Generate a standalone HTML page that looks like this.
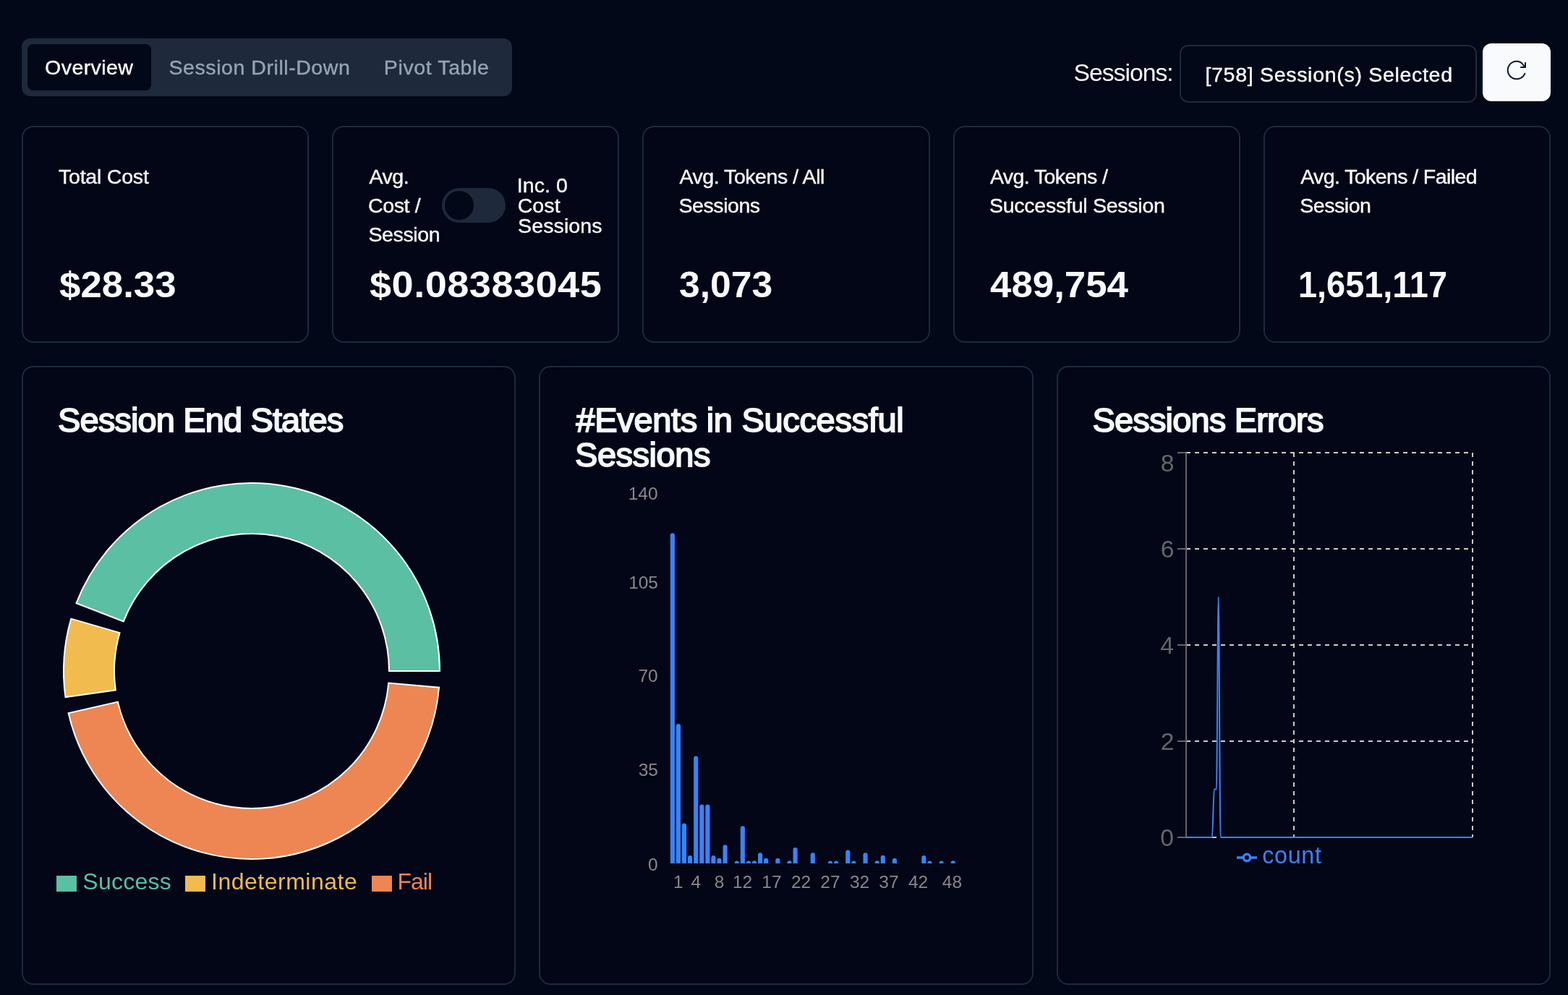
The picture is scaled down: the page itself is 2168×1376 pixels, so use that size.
<!DOCTYPE html>
<html lang="en">
<head>
<meta charset="utf-8">
<title>Overview</title>
<style>
/* canvas is 2168 x 1376; every length is in rem with 1rem = 100px at that width */
html{font-size:calc(100vw / 21.68)}
html,body{margin:0;padding:0}
body{width:21.68rem;height:13.76rem;overflow:hidden;background:#020817;position:relative;font-family:"Liberation Sans",sans-serif;color:#f8fafc;font-size:0.28rem}
body *{position:absolute;box-sizing:border-box;margin:0;padding:0}
.card{border:0.0201rem solid #1e293b;border-radius:0.16rem;background:#020617}
.tabs{background:#1e293b;border-radius:0.12rem}
.tab-on{background:#020817;border-radius:0.08rem}
.select{border:0.0201rem solid #1e293b;border-radius:0.12rem;background:#020817}
.btn{background:#f8fafc;border-radius:0.12rem}
.switch{background:#1e293b;border-radius:0.24rem}
.thumb{background:#020817;border-radius:50%}
.t{white-space:nowrap}
.sx{transform-origin:0 0}
</style>
</head>
<body>
<nav class="tabs" style="left:0.3rem;top:0.53rem;width:6.78rem;height:0.8rem">
<div class="tab-on" style="left:0.08rem;top:0.08rem;width:1.71rem;height:0.64rem"></div>
<span class="t" style="left:0.3211rem;top:0.2301rem;font-size:0.2856rem;line-height:0.34rem;-webkit-text-stroke:0.004rem #f8fafc;letter-spacing:0.00402rem">Overview</span>
<span class="t" style="left:2.0356rem;top:0.2301rem;font-size:0.2856rem;line-height:0.34rem;-webkit-text-stroke:0.004rem #94a3b8;letter-spacing:0.00536rem;color:#94a3b8">Session Drill-Down</span>
<span class="t" style="left:5.0087rem;top:0.2301rem;font-size:0.2856rem;line-height:0.34rem;-webkit-text-stroke:0.004rem #94a3b8;letter-spacing:0.00588rem;color:#94a3b8">Pivot Table</span>
</nav>
<span class="t" style="left:14.8445rem;top:0.8rem;font-size:0.3373rem;line-height:0.4rem;letter-spacing:-0.00992rem">Sessions:</span>
<div class="select" style="left:16.31rem;top:0.62rem;width:4.11rem;height:0.8rem">
<span class="t" style="left:0.3341rem;top:0.22rem;font-size:0.2856rem;line-height:0.34rem;-webkit-text-stroke:0.004rem #f8fafc;letter-spacing:0.00681rem">[758] Session(s) Selected</span>
</div>
<div class="btn" style="left:20.5rem;top:0.6rem;width:0.94rem;height:0.8rem">
<svg style="left:0.32rem;top:0.22rem;width:0.3rem;height:0.3rem" viewBox="0 0 15 15"><path d="M1.84998 7.49998C1.84998 4.66458 4.05979 1.84998 7.49998 1.84998C10.2783 1.84998 11.6515 3.9064 12.2367 5H10.5C10.2239 5 10 5.22386 10 5.5C10 5.77614 10.2239 6 10.5 6H13.5C13.7761 6 14 5.77614 14 5.5V2.5C14 2.22386 13.7761 2 13.5 2C13.2239 2 13 2.22386 13 2.5V4.31318C12.2955 3.07126 10.6659 0.849976 7.49998 0.849976C3.43716 0.849976 0.849976 4.18537 0.849976 7.49998C0.849976 10.8146 3.43716 14.15 7.49998 14.15C9.44382 14.15 11.0622 13.3808 12.2145 12.2084C12.8315 11.5806 13.3133 10.839 13.6418 10.0407C13.7469 9.78536 13.6251 9.49315 13.3698 9.38806C13.1144 9.28296 12.8222 9.40478 12.7171 9.66014C12.4363 10.3425 12.0251 10.9745 11.5013 11.5074C10.5295 12.4963 9.16504 13.15 7.49998 13.15C4.05979 13.15 1.84998 10.3354 1.84998 7.49998Z" fill="#0f172a" fill-rule="evenodd" clip-rule="evenodd"/></svg>
</div>
<section class="card stat" style="left:0.3rem;top:1.74rem;width:3.972rem;height:3rem">
<span class="t" style="left:0.4895rem;top:0.51rem;font-size:0.2856rem;line-height:0.34rem;-webkit-text-stroke:0.004rem #f8fafc;letter-spacing:-0.00226rem">Total Cost</span>
<span class="t sx" style="left:0.503rem;top:1.8801rem;font-size:0.492rem;line-height:0.59rem;font-weight:700;transform:scaleX(1.0740)">$28.33</span>
</section>
<section class="card stat" style="left:4.592rem;top:1.74rem;width:3.972rem;height:3rem">
<div class="switch" style="left:1.498rem;top:0.84rem;width:0.88rem;height:0.48rem"><div class="thumb" style="left:0.04rem;top:0.04rem;width:0.4rem;height:0.4rem"></div></div>
<span class="t" style="left:0.492rem;top:0.51rem;font-size:0.2856rem;line-height:0.34rem;-webkit-text-stroke:0.004rem #f8fafc;letter-spacing:-0.00402rem">Avg.</span>
<span class="t" style="left:0.4786rem;top:0.91rem;font-size:0.2856rem;line-height:0.34rem;-webkit-text-stroke:0.004rem #f8fafc;letter-spacing:-0.00402rem">Cost /</span>
<span class="t" style="left:0.4831rem;top:1.31rem;font-size:0.2856rem;line-height:0.34rem;-webkit-text-stroke:0.004rem #f8fafc;letter-spacing:-0.00402rem">Session</span>
<span class="t" style="left:2.5357rem;top:0.6301rem;font-size:0.2856rem;line-height:0.34rem;-webkit-text-stroke:0.004rem #f8fafc;letter-spacing:0.00086rem">Inc. 0</span>
<span class="t" style="left:2.5446rem;top:0.9101rem;font-size:0.2856rem;line-height:0.34rem;-webkit-text-stroke:0.004rem #f8fafc;letter-spacing:0.00086rem">Cost</span>
<span class="t" style="left:2.5491rem;top:1.1901rem;font-size:0.2856rem;line-height:0.34rem;-webkit-text-stroke:0.004rem #f8fafc;letter-spacing:0.00086rem">Sessions</span>
<span class="t sx" style="left:0.501rem;top:1.8801rem;font-size:0.492rem;line-height:0.59rem;font-weight:700;letter-spacing:0.00438rem;transform:scaleX(1.1000)">$0.08383045</span>
</section>
<section class="card stat" style="left:8.884rem;top:1.74rem;width:3.972rem;height:3rem">
<span class="t" style="left:0.49rem;top:0.51rem;font-size:0.2856rem;line-height:0.34rem;-webkit-text-stroke:0.004rem #f8fafc;letter-spacing:-0.00464rem">Avg. Tokens / All</span>
<span class="t" style="left:0.4811rem;top:0.91rem;font-size:0.2856rem;line-height:0.34rem;-webkit-text-stroke:0.004rem #f8fafc;letter-spacing:-0.00457rem">Sessions</span>
<span class="t sx" style="left:0.4849rem;top:1.8801rem;font-size:0.492rem;line-height:0.59rem;font-weight:700;transform:scaleX(1.0493)">3,073</span>
</section>
<section class="card stat" style="left:13.176rem;top:1.74rem;width:3.972rem;height:3rem">
<span class="t" style="left:0.493rem;top:0.51rem;font-size:0.2856rem;line-height:0.34rem;-webkit-text-stroke:0.004rem #f8fafc;letter-spacing:-0.00602rem">Avg. Tokens /</span>
<span class="t" style="left:0.4841rem;top:0.91rem;font-size:0.2856rem;line-height:0.34rem;-webkit-text-stroke:0.004rem #f8fafc;letter-spacing:-0.00273rem">Successful Session</span>
<span class="t sx" style="left:0.491rem;top:1.8801rem;font-size:0.492rem;line-height:0.59rem;font-weight:700;transform:scaleX(1.0743)">489,754</span>
</section>
<section class="card stat" style="left:17.468rem;top:1.74rem;width:3.972rem;height:3rem">
<span class="t" style="left:0.494rem;top:0.51rem;font-size:0.2856rem;line-height:0.34rem;-webkit-text-stroke:0.004rem #f8fafc;letter-spacing:-0.00613rem">Avg. Tokens / Failed</span>
<span class="t" style="left:0.4851rem;top:0.91rem;font-size:0.2856rem;line-height:0.34rem;-webkit-text-stroke:0.004rem #f8fafc;letter-spacing:-0.00485rem">Session</span>
<span class="t sx" style="left:0.4627rem;top:1.8801rem;font-size:0.492rem;line-height:0.59rem;font-weight:700;transform:scaleX(0.9531)">1,651,117</span>
</section>
<section class="card chart" style="left:0.3rem;top:5.06rem;width:6.8333rem;height:8.56rem">
<svg style="left:0rem;top:0rem;width:6.79rem;height:8.52rem" viewBox="32 508 679 852">
<path d="M608.00,928.00A260.0,260.0,0,0,0,105.52,834.17L170.80,859.43A190.0,190.0,0,0,1,538.00,928.00Z" fill="#5bbfa3" stroke="#fff" stroke-width="2"/>
<path d="M98.27,855.66A260.0,260.0,0,0,0,90.51,964.04L159.83,954.34A190.0,190.0,0,0,1,165.50,875.14Z" fill="#f2bb4d" stroke="#fff" stroke-width="2"/>
<path d="M94.63,986.35A260.0,260.0,0,0,0,607.01,950.66L537.28,944.56A190.0,190.0,0,0,1,162.85,970.64Z" fill="#ed8652" stroke="#fff" stroke-width="2"/>
<rect x="78" y="1211" width="28" height="22" fill="#5bbfa3"/>
<rect x="256" y="1211" width="28" height="22" fill="#f2bb4d"/>
<rect x="514" y="1211" width="28" height="22" fill="#ed8652"/>
</svg>
<span class="t" style="left:0.4803rem;top:0.4501rem;font-size:0.4699rem;line-height:0.56rem;-webkit-text-stroke:0.018rem #f8fafc;letter-spacing:-0.00869rem">Session End States</span>
<span class="t" style="left:0.823rem;top:6.9201rem;font-size:0.32rem;line-height:0.38rem;letter-spacing:0.00244rem;color:#5bbfa3">Success</span>
<span class="t" style="left:2.601rem;top:6.9201rem;font-size:0.32rem;line-height:0.38rem;letter-spacing:0.00494rem;color:#f2bb4d">Indeterminate</span>
<span class="t" style="left:5.175rem;top:6.9201rem;font-size:0.32rem;line-height:0.38rem;letter-spacing:-0.01018rem;color:#ed8652">Fail</span>
</section>
<section class="card chart" style="left:7.4533rem;top:5.06rem;width:6.8333rem;height:8.56rem">
<svg style="left:0.0067rem;top:0rem;width:6.78rem;height:8.52rem" viewBox="748 508 678 852">
<path d="M926.82,1194.0V740.22A3.08,3.08,0,0,1,932.97,740.22V1194.0Z" fill="#3b82f6"/>
<path d="M934.90,1194.0V1003.93A3.08,3.08,0,0,1,941.05,1003.93V1194.0Z" fill="#3b82f6"/>
<path d="M942.98,1194.0V1141.36A3.08,3.08,0,0,1,949.13,1141.36V1194.0Z" fill="#3b82f6"/>
<path d="M951.06,1194.0V1185.93A3.08,3.08,0,0,1,957.21,1185.93V1194.0Z" fill="#3b82f6"/>
<path d="M959.14,1194.0V1048.50A3.08,3.08,0,0,1,965.29,1048.50V1194.0Z" fill="#3b82f6"/>
<path d="M967.22,1194.0V1115.36A3.08,3.08,0,0,1,973.37,1115.36V1194.0Z" fill="#3b82f6"/>
<path d="M975.30,1194.0V1115.36A3.08,3.08,0,0,1,981.45,1115.36V1194.0Z" fill="#3b82f6"/>
<path d="M983.38,1194.0V1185.93A3.08,3.08,0,0,1,989.53,1185.93V1194.0Z" fill="#3b82f6"/>
<path d="M991.46,1194.0V1189.65A3.08,3.08,0,0,1,997.61,1189.65V1194.0Z" fill="#3b82f6"/>
<path d="M999.54,1194.0V1171.08A3.08,3.08,0,0,1,1005.69,1171.08V1194.0Z" fill="#3b82f6"/>
<path d="M1015.70,1194.0V1193.36A3.08,3.08,0,0,1,1021.85,1193.36V1194.0Z" fill="#3b82f6"/>
<path d="M1023.78,1194.0V1145.08A3.08,3.08,0,0,1,1029.93,1145.08V1194.0Z" fill="#3b82f6"/>
<path d="M1031.87,1194.0V1193.36A3.08,3.08,0,0,1,1038.02,1193.36V1194.0Z" fill="#3b82f6"/>
<path d="M1039.94,1194.0V1193.36A3.08,3.08,0,0,1,1046.10,1193.36V1194.0Z" fill="#3b82f6"/>
<path d="M1048.02,1194.0V1182.22A3.08,3.08,0,0,1,1054.17,1182.22V1194.0Z" fill="#3b82f6"/>
<path d="M1056.11,1194.0V1189.65A3.08,3.08,0,0,1,1062.26,1189.65V1194.0Z" fill="#3b82f6"/>
<path d="M1072.26,1194.0V1189.65A3.08,3.08,0,0,1,1078.41,1189.65V1194.0Z" fill="#3b82f6"/>
<path d="M1088.42,1194.0V1193.36A3.08,3.08,0,0,1,1094.58,1193.36V1194.0Z" fill="#3b82f6"/>
<path d="M1096.50,1194.0V1174.79A3.08,3.08,0,0,1,1102.65,1174.79V1194.0Z" fill="#3b82f6"/>
<path d="M1120.74,1194.0V1182.22A3.08,3.08,0,0,1,1126.89,1182.22V1194.0Z" fill="#3b82f6"/>
<path d="M1144.98,1194.0V1193.36A3.08,3.08,0,0,1,1151.13,1193.36V1194.0Z" fill="#3b82f6"/>
<path d="M1153.06,1194.0V1193.36A3.08,3.08,0,0,1,1159.21,1193.36V1194.0Z" fill="#3b82f6"/>
<path d="M1169.22,1194.0V1178.50A3.08,3.08,0,0,1,1175.38,1178.50V1194.0Z" fill="#3b82f6"/>
<path d="M1177.30,1194.0V1193.36A3.08,3.08,0,0,1,1183.45,1193.36V1194.0Z" fill="#3b82f6"/>
<path d="M1193.46,1194.0V1182.22A3.08,3.08,0,0,1,1199.62,1182.22V1194.0Z" fill="#3b82f6"/>
<path d="M1209.62,1194.0V1193.36A3.08,3.08,0,0,1,1215.78,1193.36V1194.0Z" fill="#3b82f6"/>
<path d="M1217.70,1194.0V1185.93A3.08,3.08,0,0,1,1223.86,1185.93V1194.0Z" fill="#3b82f6"/>
<path d="M1233.87,1194.0V1189.65A3.08,3.08,0,0,1,1240.02,1189.65V1194.0Z" fill="#3b82f6"/>
<path d="M1274.26,1194.0V1185.93A3.08,3.08,0,0,1,1280.41,1185.93V1194.0Z" fill="#3b82f6"/>
<path d="M1282.35,1194.0V1193.36A3.08,3.08,0,0,1,1288.50,1193.36V1194.0Z" fill="#3b82f6"/>
<path d="M1298.50,1194.0V1193.36A3.08,3.08,0,0,1,1304.65,1193.36V1194.0Z" fill="#3b82f6"/>
<path d="M1314.66,1194.0V1193.36A3.08,3.08,0,0,1,1320.82,1193.36V1194.0Z" fill="#3b82f6"/>
</svg>
<span class="t" style="left:0.4917rem;top:0.4501rem;font-size:0.4699rem;line-height:0.56rem;-webkit-text-stroke:0.018rem #f8fafc;letter-spacing:-0.0032rem">#Events in Successful</span>
<span class="t" style="left:0.477rem;top:0.9301rem;font-size:0.4699rem;line-height:0.56rem;-webkit-text-stroke:0.018rem #f8fafc;letter-spacing:-0.00462rem">Sessions</span>
<span class="t" style="left:1.2143rem;top:1.6rem;font-size:0.2448rem;line-height:0.29rem;color:#888888">140</span>
<span class="t" style="left:1.2181rem;top:2.83rem;font-size:0.2448rem;line-height:0.29rem;color:#888888">105</span>
<span class="t" style="left:1.3505rem;top:4.12rem;font-size:0.2448rem;line-height:0.29rem;color:#888888">70</span>
<span class="t" style="left:1.3543rem;top:5.42rem;font-size:0.2448rem;line-height:0.29rem;color:#888888">35</span>
<span class="t" style="left:1.4866rem;top:6.7301rem;font-size:0.2448rem;line-height:0.29rem;color:#888888">0</span>
<span class="t" style="left:1.8357rem;top:6.97rem;font-size:0.2448rem;line-height:0.29rem;color:#888888">1</span>
<span class="t" style="left:2.0819rem;top:6.97rem;font-size:0.2448rem;line-height:0.29rem;color:#888888">4</span>
<span class="t" style="left:2.4051rem;top:6.97rem;font-size:0.2448rem;line-height:0.29rem;color:#888888">8</span>
<span class="t" style="left:2.6564rem;top:6.97rem;font-size:0.2448rem;line-height:0.29rem;color:#888888">12</span>
<span class="t" style="left:3.0604rem;top:6.97rem;font-size:0.2448rem;line-height:0.29rem;color:#888888">17</span>
<span class="t" style="left:3.4663rem;top:6.97rem;font-size:0.2448rem;line-height:0.29rem;color:#888888">22</span>
<span class="t" style="left:3.8703rem;top:6.97rem;font-size:0.2448rem;line-height:0.29rem;color:#888888">27</span>
<span class="t" style="left:4.2763rem;top:6.97rem;font-size:0.2448rem;line-height:0.29rem;color:#888888">32</span>
<span class="t" style="left:4.6803rem;top:6.97rem;font-size:0.2448rem;line-height:0.29rem;color:#888888">37</span>
<span class="t" style="left:5.0862rem;top:6.97rem;font-size:0.2448rem;line-height:0.29rem;color:#888888">42</span>
<span class="t" style="left:5.5546rem;top:6.97rem;font-size:0.2448rem;line-height:0.29rem;color:#888888">48</span>
</section>
<section class="card chart" style="left:14.6067rem;top:5.06rem;width:6.8333rem;height:8.56rem">
<svg style="left:0.0033rem;top:0rem;width:6.79rem;height:8.52rem" viewBox="1463 508 679 852">
<line x1="1640.0" y1="626.0" x2="2036.0" y2="626.0" stroke="#cccccc" stroke-width="2" stroke-dasharray="6 6"/>
<line x1="1640.0" y1="759.0" x2="2036.0" y2="759.0" stroke="#cccccc" stroke-width="2" stroke-dasharray="6 6"/>
<line x1="1640.0" y1="892.0" x2="2036.0" y2="892.0" stroke="#cccccc" stroke-width="2" stroke-dasharray="6 6"/>
<line x1="1640.0" y1="1025.0" x2="2036.0" y2="1025.0" stroke="#cccccc" stroke-width="2" stroke-dasharray="6 6"/>
<line x1="1640.0" y1="1158.0" x2="2036.0" y2="1158.0" stroke="#cccccc" stroke-width="2" stroke-dasharray="6 6"/>
<line x1="1640.0" y1="626.0" x2="1640.0" y2="1158.0" stroke="#cccccc" stroke-width="2" stroke-dasharray="6 6"/>
<line x1="1789.0" y1="626.0" x2="1789.0" y2="1158.0" stroke="#cccccc" stroke-width="2" stroke-dasharray="6 6"/>
<line x1="2036.0" y1="626.0" x2="2036.0" y2="1158.0" stroke="#cccccc" stroke-width="2" stroke-dasharray="6 6"/>
<line x1="1640.0" y1="626.0" x2="1640.0" y2="1158.0" stroke="#666666" stroke-width="2"/>
<line x1="1628.0" y1="626.0" x2="1640.0" y2="626.0" stroke="#666666" stroke-width="2"/>
<line x1="1628.0" y1="759.0" x2="1640.0" y2="759.0" stroke="#666666" stroke-width="2"/>
<line x1="1628.0" y1="892.0" x2="1640.0" y2="892.0" stroke="#666666" stroke-width="2"/>
<line x1="1628.0" y1="1025.0" x2="1640.0" y2="1025.0" stroke="#666666" stroke-width="2"/>
<line x1="1628.0" y1="1158.0" x2="1640.0" y2="1158.0" stroke="#666666" stroke-width="2"/>
<path d="M1640.00,1158.00C1652.00,1158.00,1664.00,1158.00,1676.00,1158.00C1676.93,1158.00,1677.87,1091.50,1678.80,1091.50C1679.83,1091.50,1680.87,1091.50,1681.90,1091.50C1682.83,1091.50,1683.77,825.50,1684.70,825.50C1685.67,825.50,1686.63,1158.00,1687.60,1158.00C1803.73,1158.00,1919.87,1158.00,2036.00,1158.00" fill="none" stroke="#3b82f6" stroke-width="2"/>
<g transform="translate(1710,1172) scale(0.875)"><path d="M0,16h10.667A5.333,5.333,0,1,1,21.333,16H32M21.333,16A5.333,5.333,0,1,1,10.667,16" fill="none" stroke="#3b82f6" stroke-width="4"/></g>
</svg>
<span class="t" style="left:0.4776rem;top:0.4501rem;font-size:0.4699rem;line-height:0.56rem;-webkit-text-stroke:0.018rem #f8fafc;letter-spacing:-0.00829rem">Sessions Errors</span>
<span class="t" style="left:1.4204rem;top:1.12rem;font-size:0.3373rem;line-height:0.4rem;color:#666666">8</span>
<span class="t" style="left:1.4204rem;top:2.31rem;font-size:0.3373rem;line-height:0.4rem;color:#666666">6</span>
<span class="t" style="left:1.4151rem;top:3.64rem;font-size:0.3373rem;line-height:0.4rem;color:#666666">4</span>
<span class="t" style="left:1.4204rem;top:4.97rem;font-size:0.3373rem;line-height:0.4rem;color:#666666">2</span>
<span class="t" style="left:1.4151rem;top:6.3001rem;font-size:0.3373rem;line-height:0.4rem;color:#666666">0</span>
<span class="t" style="left:2.8262rem;top:6.56rem;font-size:0.3232rem;line-height:0.39rem;letter-spacing:0.00659rem;color:#3b82f6">count</span>
</section>
</body>
</html>
